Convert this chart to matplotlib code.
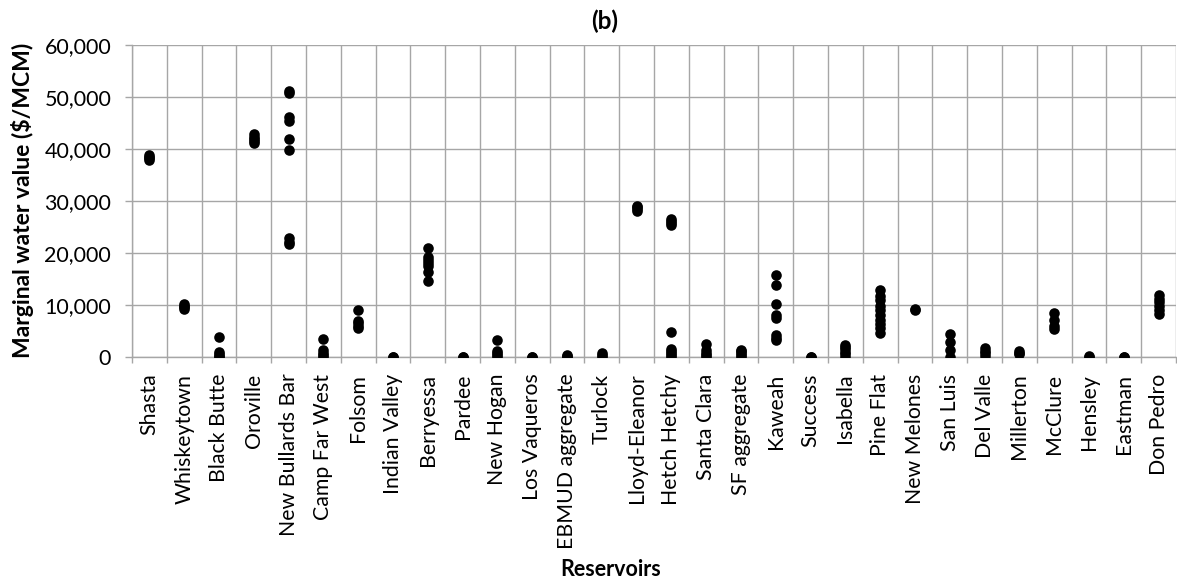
import matplotlib
matplotlib.use("Agg")
import matplotlib.pyplot as plt
from matplotlib.ticker import FuncFormatter, MultipleLocator, FixedLocator

plt.rcParams['font.family'] = ['Lato', 'DejaVu Sans']

reservoirs = [
    "Shasta", "Whiskeytown", "Black Butte", "Oroville", "New Bullards Bar",
    "Camp Far West", "Folsom", "Indian Valley", "Berryessa", "Pardee",
    "New Hogan", "Los Vaqueros", "EBMUD aggregate", "Turlock", "Lloyd-Eleanor",
    "Hetch Hetchy", "Santa Clara", "SF aggregate", "Kaweah", "Success",
    "Isabella", "Pine Flat", "New Melones", "San Luis", "Del Valle",
    "Millerton", "McClure", "Hensley", "Eastman", "Don Pedro",
]

# Marginal water values ($/MCM) per reservoir
shasta = [37900, 38200, 38500, 38800]
whiskeytown = [9300, 9600, 9900, 10200]
black_butte = [0, 200, 500, 900, 3900]
oroville = [41200, 41600, 42000, 42400, 42900]
new_bullards_bar = [21800, 22200, 22800, 39800, 42000, 45300, 46200, 50800, 51100]
camp_far_west = [0, 300, 700, 1300, 3500]
folsom = [5500, 6000, 6500, 6900, 9100]
indian_valley = [0, 50]
berryessa = [14700, 16400, 17500, 18100, 18700, 19200, 20900]
pardee = [0, 50]
new_hogan = [0, 300, 700, 1200, 3200]
los_vaqueros = [0, 50]
ebmud_aggregate = [0, 200, 400]
turlock = [0, 300, 700]
lloyd_eleanor = [28000, 28400, 28800, 29000]
hetch_hetchy = [0, 400, 800, 1200, 1600, 4900, 25400, 25800, 26200, 26500]
santa_clara = [0, 400, 800, 1300, 2500]
sf_aggregate = [0, 300, 700, 1100, 1300]
kaweah = [3300, 3700, 4300, 7500, 8100, 10200, 13800, 15700]
success = [0, 50]
isabella = [0, 500, 1000, 1500, 2000, 2400]
pine_flat = [4600, 5500, 6300, 7200, 8000, 9000, 9800, 11000, 11700, 12900]
new_melones = [9000, 9200]
san_luis = [0, 1400, 2900, 4500]
del_valle = [200, 800, 1200, 1700]
millerton = [500, 800, 1100]
mcclure = [5400, 6000, 7200, 8500]
hensley = [0, 200]
eastman = [0, 50]
don_pedro = [8200, 9000, 9800, 10500, 11200, 12000]

values = [
    shasta, whiskeytown, black_butte, oroville, new_bullards_bar,
    camp_far_west, folsom, indian_valley, berryessa, pardee,
    new_hogan, los_vaqueros, ebmud_aggregate, turlock, lloyd_eleanor,
    hetch_hetchy, santa_clara, sf_aggregate, kaweah, success,
    isabella, pine_flat, new_melones, san_luis, del_valle,
    millerton, mcclure, hensley, eastman, don_pedro,
]

fig = plt.figure(figsize=(11.77, 5.83), dpi=100)
ax = fig.add_axes([132 / 1177, 1 - 357 / 583, (1176 - 132) / 1177, (357 - 45) / 583])

grid_color = "#a6a6a6"
for i, vals in enumerate(values):
    ax.scatter([i] * len(vals), vals, s=58, color="black", zorder=3, linewidths=0)

n = len(reservoirs)
ax.set_xlim(-0.5, n - 0.5)
ax.set_ylim(0, 60000)

# category positions carry labels; boundaries carry ticks and grid lines
ax.set_xticks(range(n))
ax.set_xticklabels(reservoirs, rotation=90, fontsize=15.3, color="black")
ax.xaxis.set_minor_locator(FixedLocator([i - 0.5 for i in range(n + 1)]))
ax.tick_params(axis="x", which="major", length=0, pad=12)
ax.tick_params(axis="x", which="minor", length=4.5, width=1, color=grid_color, direction="out")
ax.grid(axis="x", which="minor", color=grid_color, linewidth=1)

ax.yaxis.set_major_locator(MultipleLocator(10000))
ax.yaxis.set_major_formatter(FuncFormatter(lambda v, p: f"{int(v):,}"))
ax.tick_params(axis="y", which="major", length=5, width=1, color=grid_color,
               labelsize=15.5, pad=10)
ax.grid(axis="y", which="major", color=grid_color, linewidth=1)
ax.set_axisbelow(True)

for side in ["top", "right"]:
    ax.spines[side].set_visible(False)
for side in ["left", "bottom"]:
    ax.spines[side].set_color(grid_color)
    ax.spines[side].set_linewidth(1)

fig.text(23 / 1177, 1 - 200 / 583, "Marginal water value ($/MCM)", rotation=90,
         ha="center", va="center", fontsize=16.5, fontweight="bold")
fig.text(611 / 1177, 1 - 569 / 583, "Reservoirs", ha="center", va="center",
         fontsize=15.5, fontweight="bold")
fig.text(605 / 1177, 1 - 21 / 583, "(b)", ha="center", va="center",
         fontsize=17.5, fontweight="bold")

fig.savefig("out.png", dpi=100)
